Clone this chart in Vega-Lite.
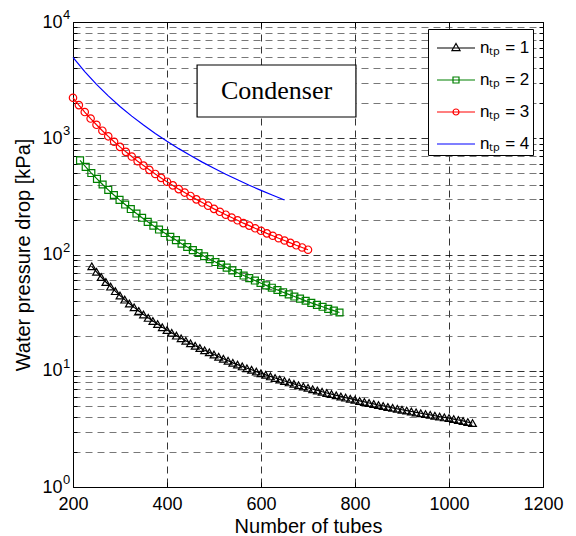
{
  "$schema": "https://vega.github.io/schema/vega-lite/v6.json",
  "width": 470,
  "height": 465,
  "autosize": {"type": "none"},
  "padding": {"left": 73, "top": 22, "right": 33, "bottom": 49},
  "background": "white",
  "config": {
    "view": {"stroke": "black", "strokeWidth": 1},
    "font": "Liberation Sans",
    "axis": {
      "labelFont": "Liberation Sans",
      "titleFont": "Liberation Sans",
      "labelColor": "black",
      "titleColor": "black",
      "labelFontSize": 18,
      "titleFontSize": 20,
      "titleFontWeight": "normal",
      "tickColor": "black",
      "domain": false,
      "labelOverlap": false,
      "labelFlush": false
    },
    "legend": {"orient": "none", "legendX": 355, "legendY": 7, "title": null, "padding": 3, "symbolSize": 900, "symbolStrokeWidth": 1.2, "symbolOpacity": 1, "symbolFillColor": "transparent", "symbolOffset": 9, "labelFont": "Liberation Sans", "labelFontSize": 17, "labelColor": "black", "labelOffset": 8, "rowPadding": 8, "strokeColor": "black", "fillColor": "white", "labelLimit": 200}
  },
  "datasets": {
    "curves": [
      {"series": "nₜₚ = 1", "n": 240, "dp": 79.1}, {"series": "nₜₚ = 1", "n": 250, "dp": 71.0}, {"series": "nₜₚ = 1", "n": 260, "dp": 64.0}, {"series": "nₜₚ = 1", "n": 270, "dp": 58.0}, {"series": "nₜₚ = 1", "n": 280, "dp": 52.9}, {"series": "nₜₚ = 1", "n": 290, "dp": 48.4}, {"series": "nₜₚ = 1", "n": 300, "dp": 44.4}, {"series": "nₜₚ = 1", "n": 310, "dp": 40.9}, {"series": "nₜₚ = 1", "n": 320, "dp": 37.9}, {"series": "nₜₚ = 1", "n": 330, "dp": 35.1},
      {"series": "nₜₚ = 1", "n": 340, "dp": 32.7}, {"series": "nₜₚ = 1", "n": 350, "dp": 30.5}, {"series": "nₜₚ = 1", "n": 360, "dp": 28.5}, {"series": "nₜₚ = 1", "n": 370, "dp": 26.8}, {"series": "nₜₚ = 1", "n": 380, "dp": 25.2}, {"series": "nₜₚ = 1", "n": 390, "dp": 23.7}, {"series": "nₜₚ = 1", "n": 400, "dp": 22.4}, {"series": "nₜₚ = 1", "n": 410, "dp": 21.2}, {"series": "nₜₚ = 1", "n": 420, "dp": 20.05}, {"series": "nₜₚ = 1", "n": 430, "dp": 19.0},
      {"series": "nₜₚ = 1", "n": 440, "dp": 18.1}, {"series": "nₜₚ = 1", "n": 450, "dp": 17.2}, {"series": "nₜₚ = 1", "n": 460, "dp": 16.4}, {"series": "nₜₚ = 1", "n": 470, "dp": 15.7}, {"series": "nₜₚ = 1", "n": 480, "dp": 15.0}, {"series": "nₜₚ = 1", "n": 490, "dp": 14.4}, {"series": "nₜₚ = 1", "n": 500, "dp": 13.8}, {"series": "nₜₚ = 1", "n": 510, "dp": 13.2}, {"series": "nₜₚ = 1", "n": 520, "dp": 12.7}, {"series": "nₜₚ = 1", "n": 530, "dp": 12.2},
      {"series": "nₜₚ = 1", "n": 540, "dp": 11.7}, {"series": "nₜₚ = 1", "n": 550, "dp": 11.3}, {"series": "nₜₚ = 1", "n": 560, "dp": 10.9}, {"series": "nₜₚ = 1", "n": 570, "dp": 10.5}, {"series": "nₜₚ = 1", "n": 580, "dp": 10.2}, {"series": "nₜₚ = 1", "n": 590, "dp": 9.84}, {"series": "nₜₚ = 1", "n": 600, "dp": 9.52}, {"series": "nₜₚ = 1", "n": 610, "dp": 9.22}, {"series": "nₜₚ = 1", "n": 620, "dp": 8.94}, {"series": "nₜₚ = 1", "n": 630, "dp": 8.67},
      {"series": "nₜₚ = 1", "n": 640, "dp": 8.41}, {"series": "nₜₚ = 1", "n": 650, "dp": 8.17}, {"series": "nₜₚ = 1", "n": 660, "dp": 7.94}, {"series": "nₜₚ = 1", "n": 670, "dp": 7.72}, {"series": "nₜₚ = 1", "n": 680, "dp": 7.51}, {"series": "nₜₚ = 1", "n": 690, "dp": 7.31}, {"series": "nₜₚ = 1", "n": 700, "dp": 7.12}, {"series": "nₜₚ = 1", "n": 710, "dp": 6.94}, {"series": "nₜₚ = 1", "n": 720, "dp": 6.77}, {"series": "nₜₚ = 1", "n": 730, "dp": 6.60},
      {"series": "nₜₚ = 1", "n": 740, "dp": 6.44}, {"series": "nₜₚ = 1", "n": 750, "dp": 6.29}, {"series": "nₜₚ = 1", "n": 760, "dp": 6.15}, {"series": "nₜₚ = 1", "n": 770, "dp": 6.01}, {"series": "nₜₚ = 1", "n": 780, "dp": 5.87}, {"series": "nₜₚ = 1", "n": 790, "dp": 5.75}, {"series": "nₜₚ = 1", "n": 800, "dp": 5.62}, {"series": "nₜₚ = 1", "n": 810, "dp": 5.50}, {"series": "nₜₚ = 1", "n": 820, "dp": 5.39}, {"series": "nₜₚ = 1", "n": 830, "dp": 5.28},
      {"series": "nₜₚ = 1", "n": 840, "dp": 5.18}, {"series": "nₜₚ = 1", "n": 850, "dp": 5.07}, {"series": "nₜₚ = 1", "n": 860, "dp": 4.98}, {"series": "nₜₚ = 1", "n": 870, "dp": 4.88}, {"series": "nₜₚ = 1", "n": 880, "dp": 4.79}, {"series": "nₜₚ = 1", "n": 890, "dp": 4.70}, {"series": "nₜₚ = 1", "n": 900, "dp": 4.62}, {"series": "nₜₚ = 1", "n": 910, "dp": 4.54}, {"series": "nₜₚ = 1", "n": 920, "dp": 4.46}, {"series": "nₜₚ = 1", "n": 930, "dp": 4.38},
      {"series": "nₜₚ = 1", "n": 940, "dp": 4.31}, {"series": "nₜₚ = 1", "n": 950, "dp": 4.24}, {"series": "nₜₚ = 1", "n": 960, "dp": 4.17}, {"series": "nₜₚ = 1", "n": 970, "dp": 4.10}, {"series": "nₜₚ = 1", "n": 980, "dp": 4.03}, {"series": "nₜₚ = 1", "n": 990, "dp": 3.97}, {"series": "nₜₚ = 1", "n": 1000, "dp": 3.91}, {"series": "nₜₚ = 1", "n": 1010, "dp": 3.84}, {"series": "nₜₚ = 1", "n": 1020, "dp": 3.77}, {"series": "nₜₚ = 1", "n": 1030, "dp": 3.70},
      {"series": "nₜₚ = 1", "n": 1040, "dp": 3.62}, {"series": "nₜₚ = 1", "n": 1050, "dp": 3.55},
      {"series": "nₜₚ = 2", "n": 215, "dp": 645}, {"series": "nₜₚ = 2", "n": 227, "dp": 567}, {"series": "nₜₚ = 2", "n": 239, "dp": 502}, {"series": "nₜₚ = 2", "n": 251, "dp": 447}, {"series": "nₜₚ = 2", "n": 263, "dp": 400}, {"series": "nₜₚ = 2", "n": 275, "dp": 360}, {"series": "nₜₚ = 2", "n": 287, "dp": 325}, {"series": "nₜₚ = 2", "n": 299, "dp": 295}, {"series": "nₜₚ = 2", "n": 311, "dp": 269}, {"series": "nₜₚ = 2", "n": 323, "dp": 246},
      {"series": "nₜₚ = 2", "n": 335, "dp": 225}, {"series": "nₜₚ = 2", "n": 347, "dp": 207}, {"series": "nₜₚ = 2", "n": 359, "dp": 191}, {"series": "nₜₚ = 2", "n": 371, "dp": 177}, {"series": "nₜₚ = 2", "n": 383, "dp": 164}, {"series": "nₜₚ = 2", "n": 395, "dp": 153}, {"series": "nₜₚ = 2", "n": 407, "dp": 142}, {"series": "nₜₚ = 2", "n": 419, "dp": 133}, {"series": "nₜₚ = 2", "n": 431, "dp": 124}, {"series": "nₜₚ = 2", "n": 443, "dp": 116},
      {"series": "nₜₚ = 2", "n": 455, "dp": 109}, {"series": "nₜₚ = 2", "n": 467, "dp": 103}, {"series": "nₜₚ = 2", "n": 479, "dp": 96.6}, {"series": "nₜₚ = 2", "n": 491, "dp": 91.1}, {"series": "nₜₚ = 2", "n": 503, "dp": 86.1}, {"series": "nₜₚ = 2", "n": 515, "dp": 81.4}, {"series": "nₜₚ = 2", "n": 527, "dp": 77.1}, {"series": "nₜₚ = 2", "n": 539, "dp": 73.0}, {"series": "nₜₚ = 2", "n": 551, "dp": 69.3}, {"series": "nₜₚ = 2", "n": 563, "dp": 65.9},
      {"series": "nₜₚ = 2", "n": 575, "dp": 62.7}, {"series": "nₜₚ = 2", "n": 587, "dp": 59.7}, {"series": "nₜₚ = 2", "n": 599, "dp": 56.9}, {"series": "nₜₚ = 2", "n": 611, "dp": 54.3}, {"series": "nₜₚ = 2", "n": 623, "dp": 51.8}, {"series": "nₜₚ = 2", "n": 635, "dp": 49.5}, {"series": "nₜₚ = 2", "n": 647, "dp": 47.4}, {"series": "nₜₚ = 2", "n": 659, "dp": 45.4}, {"series": "nₜₚ = 2", "n": 671, "dp": 43.5}, {"series": "nₜₚ = 2", "n": 683, "dp": 41.7},
      {"series": "nₜₚ = 2", "n": 695, "dp": 40.0}, {"series": "nₜₚ = 2", "n": 707, "dp": 38.4}, {"series": "nₜₚ = 2", "n": 719, "dp": 36.9}, {"series": "nₜₚ = 2", "n": 731, "dp": 35.5}, {"series": "nₜₚ = 2", "n": 743, "dp": 34.1}, {"series": "nₜₚ = 2", "n": 755, "dp": 32.9}, {"series": "nₜₚ = 2", "n": 767, "dp": 31.7},
      {"series": "nₜₚ = 3", "n": 200, "dp": 2230}, {"series": "nₜₚ = 3", "n": 212.5, "dp": 1928}, {"series": "nₜₚ = 3", "n": 225, "dp": 1681}, {"series": "nₜₚ = 3", "n": 237.5, "dp": 1477}, {"series": "nₜₚ = 3", "n": 250, "dp": 1306}, {"series": "nₜₚ = 3", "n": 262.5, "dp": 1161}, {"series": "nₜₚ = 3", "n": 275, "dp": 1039}, {"series": "nₜₚ = 3", "n": 287.5, "dp": 933}, {"series": "nₜₚ = 3", "n": 300, "dp": 843}, {"series": "nₜₚ = 3", "n": 312.5, "dp": 764},
      {"series": "nₜₚ = 3", "n": 325, "dp": 696}, {"series": "nₜₚ = 3", "n": 337.5, "dp": 635}, {"series": "nₜₚ = 3", "n": 350, "dp": 582}, {"series": "nₜₚ = 3", "n": 362.5, "dp": 535}, {"series": "nₜₚ = 3", "n": 375, "dp": 493}, {"series": "nₜₚ = 3", "n": 387.5, "dp": 456}, {"series": "nₜₚ = 3", "n": 400, "dp": 423}, {"series": "nₜₚ = 3", "n": 412.5, "dp": 393}, {"series": "nₜₚ = 3", "n": 425, "dp": 365}, {"series": "nₜₚ = 3", "n": 437.5, "dp": 341},
      {"series": "nₜₚ = 3", "n": 450, "dp": 319}, {"series": "nₜₚ = 3", "n": 462.5, "dp": 298}, {"series": "nₜₚ = 3", "n": 475, "dp": 280}, {"series": "nₜₚ = 3", "n": 487.5, "dp": 263}, {"series": "nₜₚ = 3", "n": 500, "dp": 247}, {"series": "nₜₚ = 3", "n": 512.5, "dp": 233}, {"series": "nₜₚ = 3", "n": 525, "dp": 220}, {"series": "nₜₚ = 3", "n": 537.5, "dp": 208}, {"series": "nₜₚ = 3", "n": 550, "dp": 197}, {"series": "nₜₚ = 3", "n": 562.5, "dp": 186},
      {"series": "nₜₚ = 3", "n": 575, "dp": 177}, {"series": "nₜₚ = 3", "n": 587.5, "dp": 168}, {"series": "nₜₚ = 3", "n": 600, "dp": 160}, {"series": "nₜₚ = 3", "n": 612.5, "dp": 152}, {"series": "nₜₚ = 3", "n": 625, "dp": 145}, {"series": "nₜₚ = 3", "n": 637.5, "dp": 138}, {"series": "nₜₚ = 3", "n": 650, "dp": 132}, {"series": "nₜₚ = 3", "n": 662.5, "dp": 126}, {"series": "nₜₚ = 3", "n": 675, "dp": 120}, {"series": "nₜₚ = 3", "n": 687.5, "dp": 115},
      {"series": "nₜₚ = 3", "n": 700, "dp": 110},
      {"series": "nₜₚ = 4", "n": 200, "dp": 4970}, {"series": "nₜₚ = 4", "n": 225, "dp": 3745}, {"series": "nₜₚ = 4", "n": 250, "dp": 2910}, {"series": "nₜₚ = 4", "n": 275, "dp": 2315}, {"series": "nₜₚ = 4", "n": 300, "dp": 1878}, {"series": "nₜₚ = 4", "n": 325, "dp": 1550}, {"series": "nₜₚ = 4", "n": 350, "dp": 1298}, {"series": "nₜₚ = 4", "n": 375, "dp": 1100}, {"series": "nₜₚ = 4", "n": 400, "dp": 942}, {"series": "nₜₚ = 4", "n": 425, "dp": 814},
      {"series": "nₜₚ = 4", "n": 450, "dp": 710}, {"series": "nₜₚ = 4", "n": 475, "dp": 623}, {"series": "nₜₚ = 4", "n": 500, "dp": 551}, {"series": "nₜₚ = 4", "n": 525, "dp": 490}, {"series": "nₜₚ = 4", "n": 550, "dp": 439}, {"series": "nₜₚ = 4", "n": 575, "dp": 394}, {"series": "nₜₚ = 4", "n": 600, "dp": 356}, {"series": "nₜₚ = 4", "n": 625, "dp": 323}, {"series": "nₜₚ = 4", "n": 650, "dp": 294}
    ],
    "legendItems": [
      {"series": "nₜₚ = 1"}, {"series": "nₜₚ = 2"}, {"series": "nₜₚ = 3"}, {"series": "nₜₚ = 4"}
    ],
    "exps": [
      {"v": 1, "e": "0"}, {"v": 10, "e": "1"}, {"v": 100, "e": "2"}, {"v": 1000, "e": "3"}, {"v": 10000, "e": "4"}
    ],
    "note": [
      {"x1": 464, "x2": 802, "y1": 1524, "y2": 4266, "xm": 633, "ym": 2553, "label": "Condenser"}
    ]
  },
  "layer": [
    {
      "data": {"name": "curves"},
      "mark": {"type": "line", "strokeWidth": 1.2},
      "encoding": {
        "x": {
          "field": "n", "type": "quantitative",
          "scale": {"domain": [200, 1200], "nice": false, "zero": false},
          "axis": {
            "values": [200, 400, 600, 800, 1000, 1200],
            "format": "d",
            "title": "Number of tubes",
            "grid": true, "gridColor": "black", "gridDash": [7, 5], "gridWidth": 0.8,
            "tickSize": -5, "tickWidth": 1, "labelPadding": 13, "titlePadding": 3
          }
        },
        "y": {
          "field": "dp", "type": "quantitative",
          "scale": {"type": "log", "domain": [1, 10000], "nice": false},
          "axis": {
            "values": [1, 2, 3, 4, 5, 6, 7, 8, 9, 10, 20, 30, 40, 50, 60, 70, 80, 90, 100, 200, 300, 400, 500, 600, 700, 800, 900, 1000, 2000, 3000, 4000, 5000, 6000, 7000, 8000, 9000, 10000],
            "labelExpr": "(datum.value == 1 || datum.value == 10 || datum.value == 100 || datum.value == 1000 || datum.value == 10000) ? '10' : ''",
            "title": "Water pressure drop [kPa]",
            "grid": true,
            "gridColor": {"condition": {"test": "datum.value == 1 || datum.value == 10 || datum.value == 100 || datum.value == 1000 || datum.value == 10000", "value": "black"}, "value": "#555555"},
            "gridDash": [7, 5], "gridWidth": 0.8,
            "tickSize": -4, "tickWidth": 1, "labelPadding": 15, "titlePadding": 8
          }
        },
        "color": {
          "field": "series", "type": "nominal",
          "scale": {"domain": ["nₜₚ = 1", "nₜₚ = 2", "nₜₚ = 3", "nₜₚ = 4"], "range": ["#000000", "#008000", "#ff0000", "#0000ff"]}
        }
      }
    },
    {
      "data": {"name": "curves"},
      "transform": [{"filter": "datum.series == 'nₜₚ = 1'"}],
      "mark": {"type": "point", "shape": "triangle-up", "filled": false, "size": 60, "strokeWidth": 1.2, "color": "#000000", "opacity": 1},
      "encoding": {
        "x": {"field": "n", "type": "quantitative", "axis": null},
        "y": {"field": "dp", "type": "quantitative", "axis": null}
      }
    },
    {
      "data": {"name": "curves"},
      "transform": [{"filter": "datum.series == 'nₜₚ = 2'"}],
      "mark": {"type": "point", "shape": "square", "filled": false, "size": 48, "strokeWidth": 1.2, "color": "#008000", "opacity": 1},
      "encoding": {
        "x": {"field": "n", "type": "quantitative", "axis": null},
        "y": {"field": "dp", "type": "quantitative", "axis": null}
      }
    },
    {
      "data": {"name": "curves"},
      "transform": [{"filter": "datum.series == 'nₜₚ = 3'"}],
      "mark": {"type": "point", "shape": "circle", "filled": false, "size": 55, "strokeWidth": 1.2, "color": "#ff0000", "opacity": 1},
      "encoding": {
        "x": {"field": "n", "type": "quantitative", "axis": null},
        "y": {"field": "dp", "type": "quantitative", "axis": null}
      }
    },
    {
      "data": {"name": "note"},
      "mark": {"type": "rect", "fill": "white", "stroke": "black", "strokeWidth": 1.2},
      "encoding": {
        "x": {"field": "x1", "type": "quantitative", "axis": null},
        "x2": {"field": "x2"},
        "y": {"field": "y1", "type": "quantitative", "axis": null},
        "y2": {"field": "y2"}
      }
    },
    {
      "data": {"name": "note"},
      "mark": {"type": "text", "font": "Liberation Serif", "fontSize": 26, "color": "black", "align": "center", "baseline": "middle"},
      "encoding": {
        "x": {"field": "xm", "type": "quantitative", "axis": null},
        "y": {"field": "ym", "type": "quantitative", "axis": null},
        "text": {"field": "label"}
      }
    },
    {
      "data": {"name": "exps"},
      "mark": {"type": "text", "font": "Liberation Sans", "fontSize": 13, "color": "black", "align": "left", "baseline": "alphabetic", "dx": -10, "dy": -3},
      "encoding": {
        "x": {"datum": 200, "type": "quantitative", "axis": null},
        "y": {"field": "v", "type": "quantitative", "axis": null},
        "text": {"field": "e"}
      }
    },
    {
      "data": {"name": "curves"},
      "mark": {"type": "point", "opacity": 0},
      "encoding": {
        "x": {"field": "n", "type": "quantitative", "axis": {"orient": "top", "values": [200, 400, 600, 800, 1000, 1200], "labels": false, "title": null, "grid": false, "tickSize": -5, "tickWidth": 1}},
        "y": {"field": "dp", "type": "quantitative", "axis": {"orient": "right", "values": [1, 2, 3, 4, 5, 6, 7, 8, 9, 10, 20, 30, 40, 50, 60, 70, 80, 90, 100, 200, 300, 400, 500, 600, 700, 800, 900, 1000, 2000, 3000, 4000, 5000, 6000, 7000, 8000, 9000, 10000], "labels": false, "title": null, "grid": false, "tickSize": -4, "tickWidth": 1}}
      }
    },
    {
      "data": {"name": "legendItems"},
      "mark": {"type": "point", "filled": false, "opacity": 0},
      "encoding": {
        "x": {"datum": 1100, "type": "quantitative", "axis": null},
        "y": {"datum": 5000, "type": "quantitative", "axis": null},
        "color": {"field": "series", "type": "nominal"},
        "shape": {
          "field": "series", "type": "nominal",
          "scale": {"domain": ["nₜₚ = 1", "nₜₚ = 2", "nₜₚ = 3", "nₜₚ = 4"], "range": ["M-1.27,0H1.27M0,-0.3L0.27,0.17L-0.27,0.17Z", "M-1.27,0H1.27M-0.2,-0.2H0.2V0.2H-0.2Z", "M-1.27,0H1.27M0.2,0A0.2,0.2,0,1,1,-0.2,0A0.2,0.2,0,1,1,0.2,0", "M-1.27,0H1.27"]}
        }
      }
    }
  ],
  "resolve": {"axis": {"x": "independent", "y": "independent"}}
}
